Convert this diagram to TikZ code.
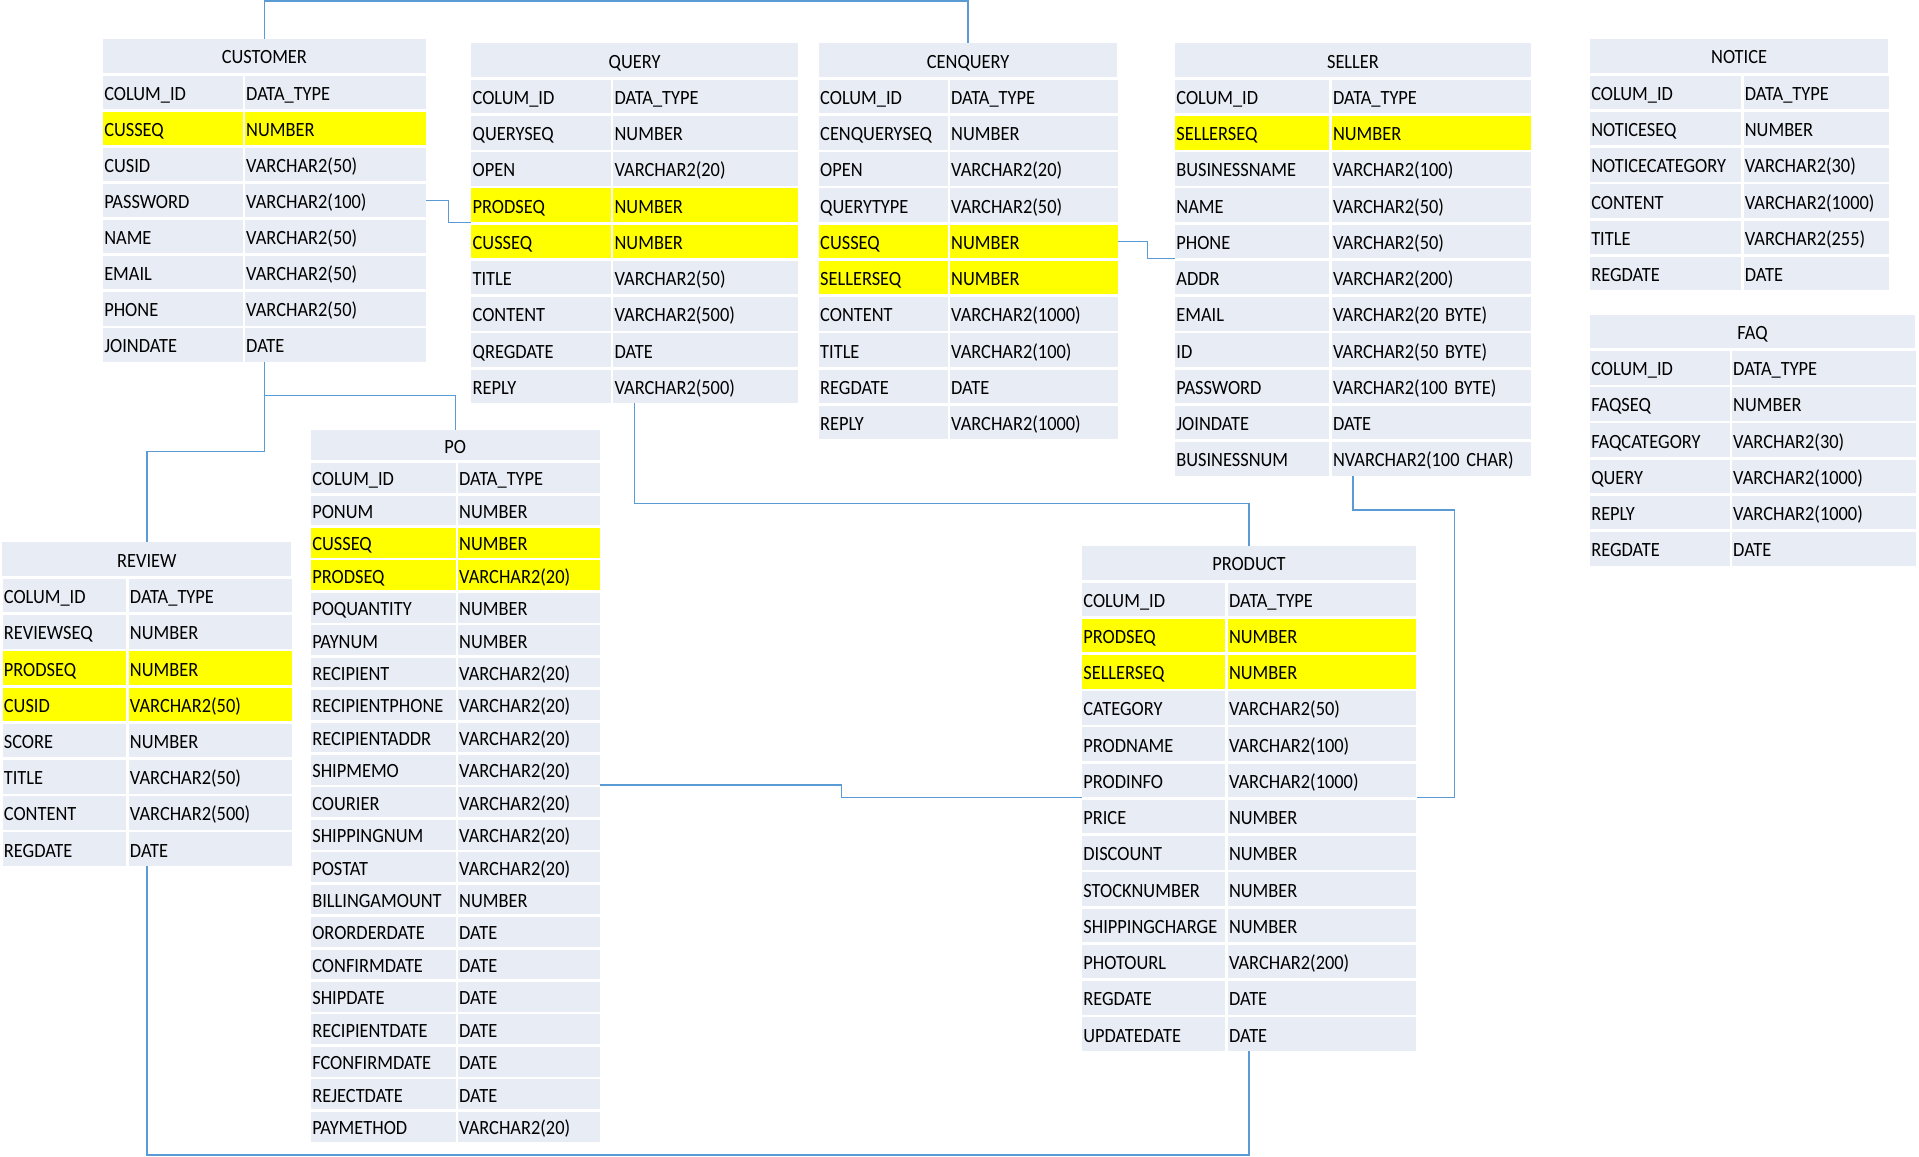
\documentclass[tikz,border=0pt]{standalone}
\usepackage{fontspec}
\setmainfont[FakeStretch=0.91]{Carlito}
\definecolor{cellc}{RGB}{232,236,245}
\definecolor{hly}{RGB}{255,255,0}
\definecolor{linkc}{RGB}{91,155,213}
\tikzset{
  tabfont/.style={font=\fontsize{16.5}{19}\selectfont, text=black, text height=13pt, text depth=0pt},
  titlecell/.style={tabfont, fill=cellc, inner sep=0pt},
  rowcell/.style={tabfont, inner xsep=1pt, inner ysep=0pt, align=left},
  link/.style={draw=linkc, line width=1.2pt}
}
% #1 name, #2 left, #3 split, #4 right, #5 top, #6 pitch, #7 title, #8 rows
\newcommand\dbtab[8]{%
  \pgfmathsetmacro\tabw{#4-#2}%
  \pgfmathsetmacro\lwt{#3-#2-1-2}%
  \pgfmathsetmacro\rwt{#4-#3-1-2}%
  \pgfmathsetmacro\cellh{#6-2.2}%
  \node[titlecell, minimum width=\tabw pt, minimum height=\cellh pt] (#1-t) at ({(#2+#4)/2},{#5+\cellh/2}) {#7};
  \foreach \ca/\cb/\hl [count=\i from 0] in {#8} {%
    \pgfmathsetmacro\yy{#5+(\i+1)*#6}%
    \ifnum\hl=1 \def\cf{hly}\else\def\cf{cellc}\fi
    \node[rowcell, fill=\cf, text width=\lwt pt, minimum height=\cellh pt, anchor=north west] (#1-r\i-a) at (#2,\yy) {\ca};
    \node[rowcell, fill=\cf, text width=\rwt pt, minimum height=\cellh pt, anchor=north west] (#1-r\i-b) at ({#3+1},\yy) {\cb};
  }%
}
\begin{document}
\begin{tikzpicture}[x=1pt,y=-1pt]
\useasboundingbox (0,0) rectangle (1568,944.6);

\dbtab{cus}{84}{199}{348}{32}{29.5}{CUSTOMER}{COLUM\_ID/DATA\_TYPE/0, CUSSEQ/NUMBER/1, CUSID/VARCHAR2(50)/0, PASSWORD/VARCHAR2(100)/0, NAME/VARCHAR2(50)/0, EMAIL/VARCHAR2(50)/0, PHONE/VARCHAR2(50)/0, JOINDATE/DATE/0}

\dbtab{q}{385}{500}{652}{35.4}{29.6}{QUERY}{COLUM\_ID/DATA\_TYPE/0, QUERYSEQ/NUMBER/0, OPEN/VARCHAR2(20)/0, PRODSEQ/NUMBER/1, CUSSEQ/NUMBER/1, TITLE/VARCHAR2(50)/0, CONTENT/VARCHAR2(500)/0, QREGDATE/DATE/0, REPLY/VARCHAR2(500)/0}

\dbtab{cen}{669}{775}{913}{35.4}{29.6}{CENQUERY}{COLUM\_ID/DATA\_TYPE/0, CENQUERYSEQ/NUMBER/0, OPEN/VARCHAR2(20)/0, QUERYTYPE/VARCHAR2(50)/0, CUSSEQ/NUMBER/1, SELLERSEQ/NUMBER/1, CONTENT/VARCHAR2(1000)/0, TITLE/VARCHAR2(100)/0, REGDATE/DATE/0, REPLY/VARCHAR2(1000)/0}

\dbtab{sel}{960}{1087}{1251}{35.4}{29.6}{SELLER}{COLUM\_ID/DATA\_TYPE/0, SELLERSEQ/NUMBER/1, BUSINESSNAME/VARCHAR2(100)/0, NAME/VARCHAR2(50)/0, PHONE/VARCHAR2(50)/0, ADDR/VARCHAR2(200)/0, EMAIL/VARCHAR2(20 BYTE)/0, ID/VARCHAR2(50 BYTE)/0, PASSWORD/VARCHAR2(100 BYTE)/0, JOINDATE/DATE/0, BUSINESSNUM/NVARCHAR2(100 CHAR)/0}

\dbtab{not}{1299}{1423.5}{1543}{32}{29.6}{NOTICE}{COLUM\_ID/DATA\_TYPE/0, NOTICESEQ/NUMBER/0, NOTICECATEGORY/VARCHAR2(30)/0, CONTENT/VARCHAR2(1000)/0, TITLE/VARCHAR2(255)/0, REGDATE/DATE/0}

\dbtab{faq}{1299}{1414}{1565}{257}{29.6}{FAQ}{COLUM\_ID/DATA\_TYPE/0, FAQSEQ/NUMBER/0, FAQCATEGORY/VARCHAR2(30)/0, QUERY/VARCHAR2(1000)/0, REPLY/VARCHAR2(1000)/0, REGDATE/DATE/0}

\dbtab{po}{254}{373}{490}{351.7}{26.5}{PO}{COLUM\_ID/DATA\_TYPE/0, PONUM/NUMBER/0, CUSSEQ/NUMBER/1, PRODSEQ/VARCHAR2(20)/1, POQUANTITY/NUMBER/0, PAYNUM/NUMBER/0, RECIPIENT/VARCHAR2(20)/0, RECIPIENTPHONE/VARCHAR2(20)/0, RECIPIENTADDR/VARCHAR2(20)/0, SHIPMEMO/VARCHAR2(20)/0, COURIER/VARCHAR2(20)/0, SHIPPINGNUM/VARCHAR2(20)/0, POSTAT/VARCHAR2(20)/0, BILLINGAMOUNT/NUMBER/0, ORORDERDATE/DATE/0, CONFIRMDATE/DATE/0, SHIPDATE/DATE/0, RECIPIENTDATE/DATE/0, FCONFIRMDATE/DATE/0, REJECTDATE/DATE/0, PAYMETHOD/VARCHAR2(20)/0}

\dbtab{rev}{2}{104}{238}{443.2}{29.6}{REVIEW}{COLUM\_ID/DATA\_TYPE/0, REVIEWSEQ/NUMBER/0, PRODSEQ/NUMBER/1, CUSID/VARCHAR2(50)/1, SCORE/NUMBER/0, TITLE/VARCHAR2(50)/0, CONTENT/VARCHAR2(500)/0, REGDATE/DATE/0}

\dbtab{prod}{884}{1002}{1157}{446.2}{29.6}{PRODUCT}{COLUM\_ID/DATA\_TYPE/0, PRODSEQ/NUMBER/1, SELLERSEQ/NUMBER/1, CATEGORY/VARCHAR2(50)/0, PRODNAME/VARCHAR2(100)/0, PRODINFO/VARCHAR2(1000)/0, PRICE/NUMBER/0, DISCOUNT/NUMBER/0, STOCKNUMBER/NUMBER/0, SHIPPINGCHARGE/NUMBER/0, PHOTOURL/VARCHAR2(200)/0, REGDATE/DATE/0, UPDATEDATE/DATE/0}

% connectors
\draw[link] (cus-t.north) -- ++(0,-31) -| (cen-t.north);
\draw[link] (cus-r3-b.east) -- ++(18,0) |- (q-r3-a.south west);
\draw[link] (cen-r4-b.east) -- ++(24,0) |- (sel-r4-a.south west);
\draw[link] (cus-t.north |- cus-r7-b.south) -- ++(0,73) -| (rev-t.north);
\draw[link] (cus-t.north |- cus-r7-b.south) -- ++(0,27.5) -| (po-t.north);
\draw[link] (q-t.north |- q-r8-b.south) -- ++(0,82) -| (prod-t.north);
\draw[link] (po-r9-b.south east) -- ++(197,0) |- (prod-r5-a.south west);
\draw[link] (sel-t.north |- sel-r10-b.south) -- ++(0,28) -- ++(83,0) |- (prod-r5-b.south east);
\draw[link] (rev-t.north |- rev-r7-b.south) -- ++(0,236) -| (prod-t.north |- prod-r12-b.south);
\end{tikzpicture}
\end{document}
